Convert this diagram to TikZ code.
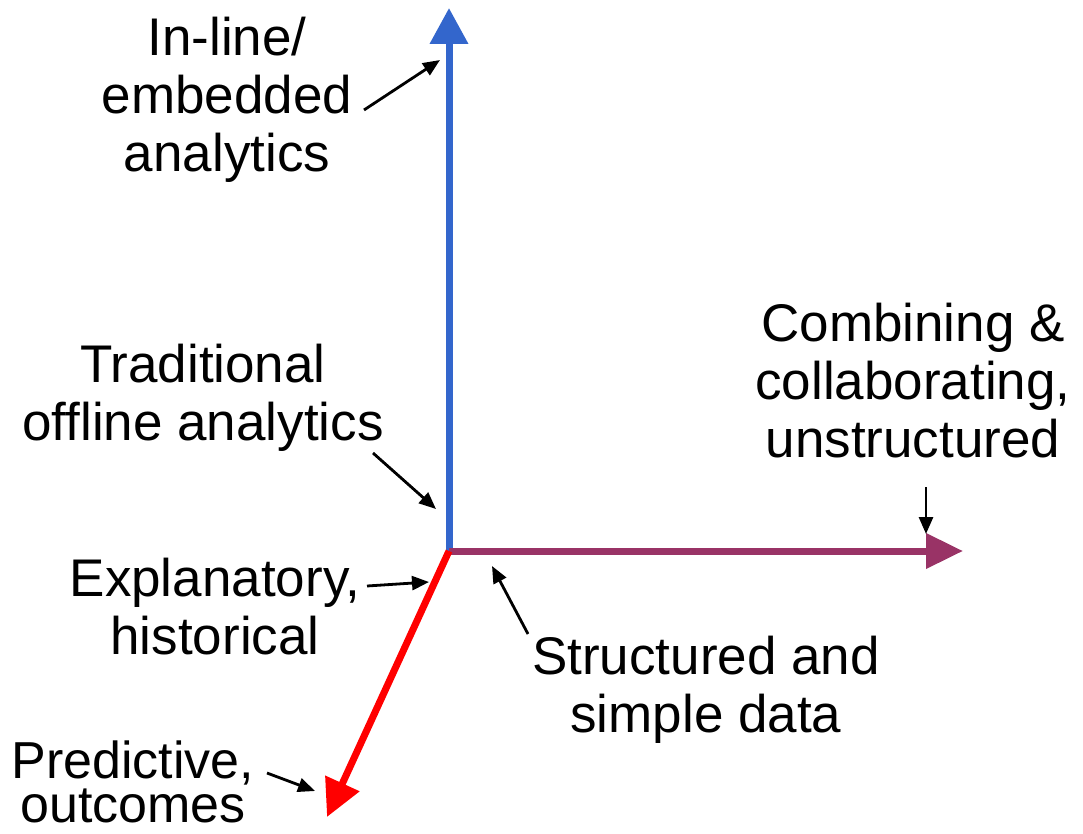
\documentclass[tikz,border=0pt]{standalone}
\usepackage{fontspec}
\setmainfont{Liberation Sans}
\usetikzlibrary{arrows.meta}
\definecolor{axblue}{RGB}{51,102,204}
\definecolor{axpurple}{RGB}{153,51,102}
\definecolor{axred}{RGB}{255,0,0}
\tikzset{
  lbl/.style={align=center, inner sep=0pt, font=\fontsize{53}{58}\selectfont},
  axis/.style={line width=7pt},
  pointer/.style={line width=2.8pt, -{Triangle[length=17pt,width=14pt]}}
}
\begin{document}
\begin{tikzpicture}[x=1pt,y=-1pt]
\useasboundingbox (0,0) rectangle (1083,834);
% axes
\coordinate (O) at (449,551);
\coordinate (ytip) at (449,8);
\coordinate (xtip) at (963,551);
\coordinate (ztip) at (327,817);
\draw[axis, axblue, -{Triangle[length=36pt,width=37pt]}] (O) -- (ytip);
\draw[axis, axpurple, -{Triangle[length=37pt,width=34pt]}] (O) -- (xtip);
\draw[axis, axred, -{Triangle[length=37pt,width=36pt]}] (O) -- (ztip);
% labels
\node[lbl] (inline) at (227,100) {In-line/\\embedded\\analytics};
\node[lbl] (trad) at (203,398) {Traditional\\offline analytics};
\node[lbl] (comb) at (913,381) {Combining \&\\collaborating,\\unstructured};
\node[lbl] (expl) at (215,607) {Explanatory,\\historical};
\node[lbl] (struct) at (706,690) {Structured and\\simple data};
\node[lbl, font=\fontsize{52}{44}\selectfont] (pred) at (133,782) {Predictive,\\outcomes};
% pointer ends
\coordinate (p1s) at (364,110); \coordinate (p1e) at (440,60);
\coordinate (p2s) at (373,453); \coordinate (p2e) at (436,509);
\coordinate (p3s) at (367,586); \coordinate (p3e) at (429,582);
\coordinate (p4s) at (528,634); \coordinate (p4e) at (492,566);
\coordinate (p5s) at (926,487); \coordinate (p5e) at (926,534);
\coordinate (p6s) at (267,773); \coordinate (p6e) at (315,791);
\draw[pointer] (p1s) -- (p1e);
\draw[pointer] (p2s) -- (p2e);
\draw[pointer] (p3s) -- (p3e);
\draw[pointer] (p4s) -- (p4e);
\draw[pointer] (p5s) -- (p5e);
\draw[pointer] (p6s) -- (p6e);
\end{tikzpicture}
\end{document}
